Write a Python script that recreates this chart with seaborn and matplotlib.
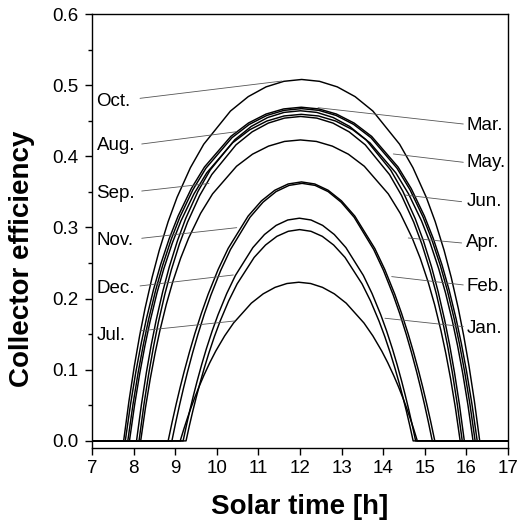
import matplotlib
matplotlib.use("Agg")
import matplotlib.pyplot as plt
import pandas as pd
import seaborn as sns
from matplotlib.ticker import MultipleLocator, FormatStrFormatter

# Monthly collector operation: start/stop solar time [h] where efficiency reaches zero
MONTHS = ["Oct.", "Mar.", "Aug.", "May.", "Jun.", "Sep.", "Apr.",
          "Nov.", "Feb.", "Dec.", "Jan.", "Jul."]
START_TIME = [7.76, 7.80, 7.86, 8.07, 7.90, 8.13, 8.17,
              8.83, 8.92, 9.19, 9.26, 9.12]
STOP_TIME = [16.32, 16.26, 16.21, 15.95, 16.16, 15.90, 15.85,
             15.24, 15.18, 14.78, 14.72, 14.82]

# Fraction of the half operating window away from solar noon (0 = noon, 1 = start/stop)
NOON_FRACTION = [0.0, 0.1, 0.2, 0.3, 0.4, 0.55, 0.625, 0.7, 0.75, 0.8,
                 0.84, 0.88, 0.91, 0.94, 0.97, 1.0]

# Collector efficiency at those fractions, from noon outwards
eff_oct = [0.508, 0.5054, 0.4976, 0.4839, 0.4636, 0.4170, 0.3840, 0.3423, 0.3082, 0.2678, 0.2299, 0.1859, 0.1480, 0.1051, 0.0561, 0.0]
eff_mar = [0.469, 0.4666, 0.4594, 0.4468, 0.4280, 0.3850, 0.3546, 0.3160, 0.2846, 0.2473, 0.2123, 0.1716, 0.1366, 0.0970, 0.0518, 0.0]
eff_aug = [0.467, 0.4646, 0.4574, 0.4449, 0.4262, 0.3833, 0.3530, 0.3147, 0.2833, 0.2462, 0.2114, 0.1709, 0.1360, 0.0966, 0.0516, 0.0]
eff_may = [0.464, 0.4617, 0.4545, 0.4420, 0.4234, 0.3809, 0.3508, 0.3126, 0.2815, 0.2446, 0.2100, 0.1698, 0.1352, 0.0960, 0.0513, 0.0]
eff_jun = [0.459, 0.4567, 0.4496, 0.4373, 0.4189, 0.3768, 0.3470, 0.3093, 0.2785, 0.2420, 0.2078, 0.1680, 0.1337, 0.0949, 0.0507, 0.0]
eff_sep = [0.456, 0.4537, 0.4467, 0.4344, 0.4161, 0.3743, 0.3447, 0.3073, 0.2767, 0.2404, 0.2064, 0.1669, 0.1328, 0.0943, 0.0504, 0.0]
eff_apr = [0.423, 0.4209, 0.4143, 0.4030, 0.3860, 0.3472, 0.3198, 0.2850, 0.2567, 0.2230, 0.1915, 0.1548, 0.1232, 0.0875, 0.0468, 0.0]
eff_nov = [0.364, 0.3611, 0.3523, 0.3374, 0.3160, 0.2705, 0.2409, 0.2061, 0.1797, 0.1506, 0.1250, 0.0974, 0.0752, 0.0516, 0.0266, 0.0]
eff_feb = [0.362, 0.3591, 0.3504, 0.3355, 0.3143, 0.2690, 0.2396, 0.2050, 0.1788, 0.1497, 0.1243, 0.0969, 0.0748, 0.0513, 0.0264, 0.0]
eff_dec = [0.313, 0.3105, 0.3029, 0.2901, 0.2717, 0.2326, 0.2071, 0.1772, 0.1546, 0.1295, 0.1075, 0.0837, 0.0646, 0.0444, 0.0228, 0.0]
eff_jan = [0.297, 0.2946, 0.2875, 0.2753, 0.2579, 0.2207, 0.1966, 0.1682, 0.1467, 0.1229, 0.1020, 0.0795, 0.0613, 0.0421, 0.0217, 0.0]
eff_jul = [0.223, 0.2212, 0.2158, 0.2067, 0.1936, 0.1657, 0.1476, 0.1263, 0.1101, 0.0922, 0.0766, 0.0597, 0.0461, 0.0316, 0.0163, 0.0]
EFFICIENCY = [eff_oct, eff_mar, eff_aug, eff_may, eff_jun, eff_sep, eff_apr,
              eff_nov, eff_feb, eff_dec, eff_jan, eff_jul]

DAY_START, DAY_END = 7.0, 17.0

# Label placement: (text x, text baseline y, leader start, leader end) in data units
LABEL_LAYOUT = {
    "Oct.": (7.11, 0.4707, (8.154, 0.4815), (11.567, 0.5058)),
    "Aug.": (7.11, 0.4089, (8.195, 0.4173), (10.479, 0.4346)),
    "Sep.": (7.11, 0.3410, (8.195, 0.3512), (9.812, 0.3618)),
    "Nov.": (7.11, 0.2754, (8.195, 0.2848), (10.479, 0.2997)),
    "Dec.": (7.11, 0.2075, (8.154, 0.2178), (10.397, 0.2332)),
    "Jul.": (7.11, 0.1419, (8.154, 0.1546), (10.438, 0.1686)),
    "Mar.": (16.00, 0.4370, (15.925, 0.4454), (12.433, 0.4683)),
    "May.": (16.00, 0.3854, (15.925, 0.3916), (14.243, 0.4033)),
    "Jun.": (16.00, 0.3302, (15.885, 0.3362), (14.522, 0.3456)),
    "Apr.": (16.00, 0.2726, (15.885, 0.2782), (14.603, 0.2852)),
    "Feb.": (16.00, 0.2108, (15.925, 0.2192), (14.204, 0.2309)),
    "Jan.": (16.00, 0.1513, (15.925, 0.1606), (14.041, 0.1724)),
}

# Long-form table: each month runs at zero efficiency outside its operating window
rows = []
for month, on, off, eff in zip(MONTHS, START_TIME, STOP_TIME, EFFICIENCY):
    noon = (on + off) / 2.0
    morning = [noon - f * (noon - on) for f in NOON_FRACTION][::-1]
    afternoon = [noon + f * (off - noon) for f in NOON_FRACTION][1:]
    times = [DAY_START] + morning + afternoon + [DAY_END]
    values = [0.0] + eff[::-1] + eff[1:] + [0.0]
    rows += [{"month": month, "time": t, "eff": v} for t, v in zip(times, values)]
df = pd.DataFrame(rows)

sns.set_theme(style="ticks")
plt.rcParams["font.family"] = ["Liberation Sans", "DejaVu Sans"]

fig = plt.figure(figsize=(5.19, 5.27), dpi=100)
ax = fig.add_axes([0.1773, 0.1499, 0.8015, 0.8235])

sns.lineplot(data=df, x="time", y="eff", units="month", estimator=None,
             color="black", linewidth=1.05, sort=False, legend=False, ax=ax)

for label, (tx, ty, (sx, sy), (ex, ey)) in LABEL_LAYOUT.items():
    ax.plot([sx, ex], [sy, ey], color="#555555", linewidth=0.6)
    ax.text(tx, ty, label, ha="left", va="baseline", fontsize=13.5, color="black")

ax.set_xlim(DAY_START, DAY_END)
ax.set_ylim(-0.01, 0.6)
ax.xaxis.set_major_locator(MultipleLocator(1))
ax.yaxis.set_major_locator(MultipleLocator(0.1))
ax.yaxis.set_minor_locator(MultipleLocator(0.05))
ax.yaxis.set_major_formatter(FormatStrFormatter("%.1f"))

ax.tick_params(axis="both", which="major", direction="out", length=5, width=1.0,
               colors="black", labelsize=13.5)
ax.tick_params(axis="x", which="major", pad=3.5)
ax.tick_params(axis="y", which="major", pad=4.5)
ax.tick_params(axis="y", which="minor", direction="out", length=3.2, width=1.0, colors="black")

for side in ["left", "right", "top", "bottom"]:
    ax.spines[side].set_visible(True)
    ax.spines[side].set_color("black")
    ax.spines[side].set_linewidth(1.0)

ax.set_xlabel("Solar time [h]", fontsize=20, fontweight="bold", va="center", color="black")
ax.set_ylabel("Collector efficiency", fontsize=20, fontweight="bold", va="center",
              ha="center", color="black")
ax.xaxis.set_label_coords(0.5, -0.136)
ax.yaxis.set_label_coords(-0.168, 0.4355)

fig.savefig("out.png", dpi=100, facecolor="white")
